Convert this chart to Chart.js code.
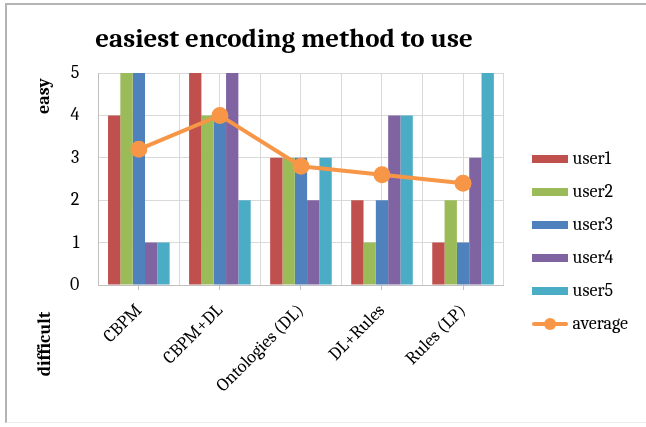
<!DOCTYPE html>
<html>
<head>
<meta charset="utf-8">
<script src="https://cdn.jsdelivr.net/npm/chart.js@4.4.1/dist/chart.umd.min.js"></script>
<style>
  html, body { margin: 0; padding: 0; background: #fff; overflow: hidden; }
  #wrap { position: relative; width: 646px; height: 427px; overflow: hidden; }
  #frame { position: absolute; left: 5px; top: 3px; width: 660px; height: 417px;
           border-left: 2px solid #b4b4b4; border-top: 2px solid #b4b4b4;
           border-bottom: 1px solid #ececec; pointer-events: none; }
</style>
</head>
<body>
<div id="wrap">
  <canvas id="chart" width="646" height="427"></canvas>
  <div id="frame"></div>
</div>
<script>
// Ratings per encoding method, 0 = difficult, 5 = easy
const categories = ['CBPM', 'CBPM+DL', 'Ontologies (DL)', 'DL+Rules', 'Rules (LP)'];
const user1 = [4, 5, 3, 2, 1];
const user2 = [5, 4, 3, 1, 2];
const user3 = [5, 4, 3, 2, 1];
const user4 = [1, 5, 2, 4, 3];
const user5 = [1, 2, 3, 4, 5];
const average = [3.2, 4.0, 2.8, 2.6, 2.4];
const yTicks = [0, 1, 2, 3, 4, 5];
const chartTitle = 'easiest encoding method to use';

const SERIF = "Cambria, 'Liberation Serif', 'DejaVu Serif', serif";
const colors = {
  user1: '#C0504D', user2: '#9BBB59', user3: '#4F81BD',
  user4: '#8064A2', user5: '#4BACC6', average: '#F79646'
};

// Legend swatches: flat bar for users, line with dot for the average
function swatch(color, isLine) {
  const c = document.createElement('canvas');
  c.width = 36; c.height = 14;
  const g = c.getContext('2d');
  if (isLine) {
    g.strokeStyle = color; g.lineWidth = 4; g.lineCap = 'round';
    g.beginPath(); g.moveTo(2, 7); g.lineTo(34, 7); g.stroke();
    g.fillStyle = color; g.beginPath(); g.arc(18, 7, 6, 0, Math.PI * 2); g.fill();
  } else {
    g.fillStyle = color; g.fillRect(0, 3, 36, 8);
  }
  return c;
}

// Title and the easy / difficult captions beside the value axis
const captions = {
  id: 'captions',
  afterDraw(chart) {
    const ctx = chart.ctx;
    ctx.save();
    ctx.fillStyle = '#000';
    ctx.textAlign = 'center';
    ctx.font = "bold 27px " + SERIF;
    ctx.textBaseline = 'alphabetic';
    ctx.fillText(chartTitle, 284, 47);
    ctx.font = "bold 18px " + SERIF;
    ctx.textBaseline = 'middle';
    [['easy', 44, 96], ['difficult', 45, 344]].forEach(([t, x, y]) => {
      ctx.save(); ctx.translate(x, y); ctx.rotate(-Math.PI / 2);
      ctx.fillText(t, 0, 0); ctx.restore();
    });
    ctx.restore();
  }
};

function barSet(label, data, color) {
  return { type: 'bar', label, data, backgroundColor: color, borderWidth: 0,
           categoryPercentage: 0.76, barPercentage: 1, order: 2, xAxisID: 'x' };
}

new Chart(document.getElementById('chart'), {
  data: {
    labels: categories,
    datasets: [
      barSet('user1', user1, colors.user1),
      barSet('user2', user2, colors.user2),
      barSet('user3', user3, colors.user3),
      barSet('user4', user4, colors.user4),
      barSet('user5', user5, colors.user5),
      { type: 'line', label: 'average', data: average, borderColor: colors.average,
        backgroundColor: colors.average, borderWidth: 4, pointRadius: 6.5,
        pointHoverRadius: 6.5, order: 1, xAxisID: 'x' }
    ]
  },
  options: {
    responsive: false,
    animation: false,
    layout: { padding: { left: 51, right: 8, top: 64, bottom: 8 } },
    plugins: {
      title: { display: false },
      legend: {
        position: 'right',
        labels: {
          color: '#000', font: { family: SERIF, size: 18 },
          usePointStyle: true, pointStyleWidth: 27, padding: 15,
          generateLabels(chart) {
            return chart.data.datasets.map((ds, i) => ({
              text: ds.label, datasetIndex: i, fontColor: '#000',
              pointStyle: swatch(ds.type === 'line' ? ds.borderColor : ds.backgroundColor, ds.type === 'line'),
              fillStyle: ds.backgroundColor, strokeStyle: ds.backgroundColor, lineWidth: 0, hidden: false
            }));
          }
        }
      },
      tooltip: { enabled: false }
    },
    scales: {
      x: {
        type: 'category', position: 'bottom', offset: true,
        grid: { offset: false, color: '#d9d9d9', tickLength: 5, tickColor: '#bfbfbf' },
        border: { color: '#bfbfbf' },
        ticks: { color: '#000', font: { family: SERIF, size: 18 }, minRotation: 45, maxRotation: 45, padding: 10 },
        afterFit(scale) { scale.height = 134; }
      },
      x2: {
        type: 'category', labels: categories, position: 'top', offset: true,
        grid: { offset: true, color: '#d9d9d9', drawTicks: true, tickLength: 9, tickColor: 'rgba(0,0,0,0)' },
        border: { display: false },
        ticks: { display: false }
      },
      y: {
        min: 0, max: 5,
        afterBuildTicks(scale) { scale.ticks = yTicks.map(v => ({ value: v })); },
        grid: { color: '#d9d9d9', drawTicks: false },
        border: { color: '#bfbfbf' },
        ticks: { color: '#000', font: { family: SERIF, size: 18 }, padding: 19 }
      },
      // empty gutter between the plot and the legend
      gutter: {
        type: 'linear', position: 'right', min: 0, max: 5, display: false,
        afterFit(scale) { scale.width = 18; }
      }
    }
  },
  plugins: [captions]
});
</script>
</body>
</html>
